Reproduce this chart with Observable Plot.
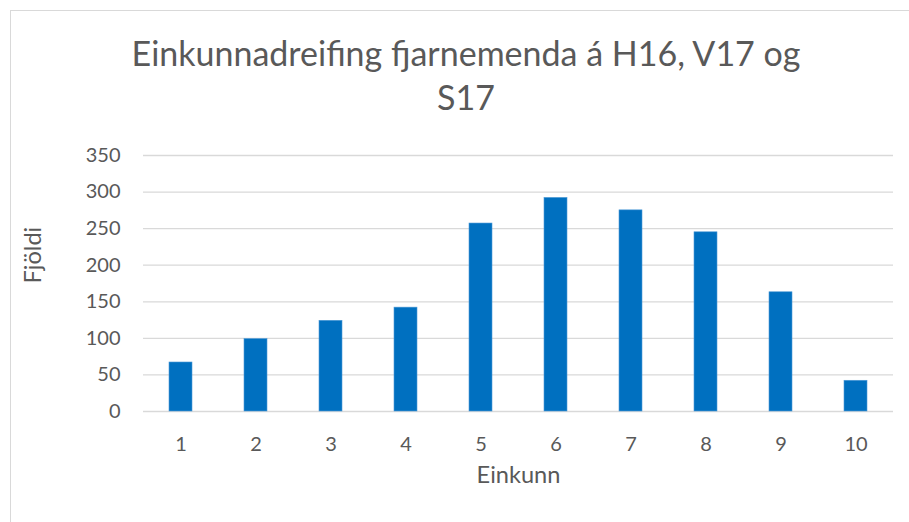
<!DOCTYPE html>
<html><head><meta charset="utf-8">
<script src="https://cdn.jsdelivr.net/npm/d3@7"></script>
<script src="https://cdn.jsdelivr.net/npm/@observablehq/plot@0.6"></script>
<style>
html,body{margin:0;padding:0;background:#fff;overflow:hidden;width:909px;height:522px;position:relative}
#frame{position:absolute;left:10px;top:10px;width:1000px;height:1000px;border:1.3px solid #d9d9d9;box-sizing:border-box}
#title{position:absolute;left:10px;width:912px;top:31px;text-align:center;font-family:Lato,sans-serif;font-size:34px;color:#595959;line-height:44px;margin:0;font-weight:normal}
#chart{position:absolute;left:0;top:130px}
</style>
</head><body>
<div id="frame"></div>
<h1 id="title">Einkunnadreifing fjarnemenda á H16, V17 og<br>S17</h1>
<div id="chart"></div>
<script>
const grades = ["1","2","3","4","5","6","7","8","9","10"];
const counts = [67, 99, 124, 142, 257, 292, 275, 245, 163, 42];
const yTicks = [0, 50, 100, 150, 200, 250, 300, 350];
const xLabel = "Einkunn";
const yLabel = "Fjöldi";

const data = grades.map((g, i) => ({grade: g, count: counts[i]}));

const chart = Plot.plot({
  width: 909,
  height: 392,
  marginLeft: 143,
  marginRight: 16,
  marginTop: 25,
  marginBottom: 111,
  style: {fontFamily: "Lato, sans-serif", color: "#595959", background: "transparent"},
  x: {domain: grades, paddingInner: 0.69, paddingOuter: 0.345},
  y: {domain: [0, 350]},
  marks: [
    Plot.ruleY(yTicks, {stroke: "#d9d9d9", strokeWidth: 1.3}),
    Plot.barY(data, {x: "grade", y: "count", fill: "#0070c0", stroke: "#4f9ad6", strokeWidth: 0.6}),
    Plot.axisX({tickSize: 0, tickPadding: 25, label: null, fontSize: 20, fill: "#595959"}),
    Plot.axisY({ticks: yTicks, tickSize: 0, tickPadding: 23, label: null, fontSize: 20, fill: "#595959"}),
    Plot.text([xLabel], {frameAnchor: "bottom", dy: 71, fontSize: 23.6, fill: "#595959"}),
    Plot.text([yLabel], {frameAnchor: "left", dx: -110, rotate: -90, fontSize: 23.6, fill: "#595959"})
  ]
});
document.getElementById("chart").appendChild(chart);
</script>
</body></html>
